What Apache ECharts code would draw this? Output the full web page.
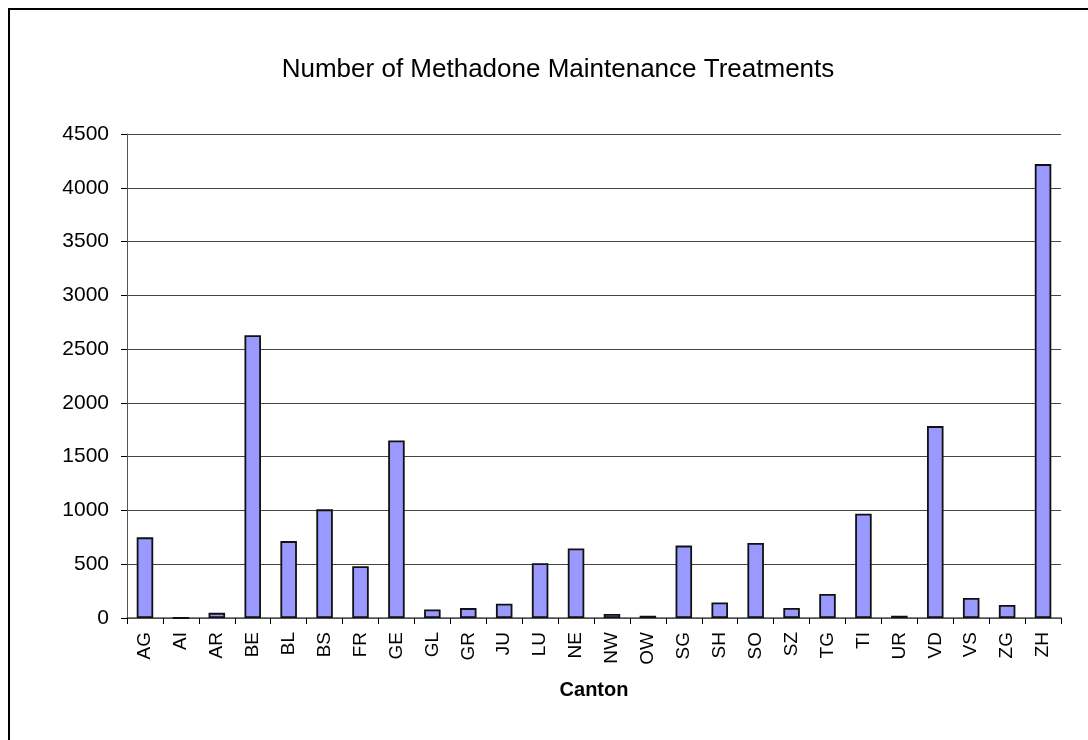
<!DOCTYPE html>
<html style="height: 100%">
    <head>
        <meta charset="utf-8">
    </head>
    <body style="height: 100%; margin: 0; background: #fff">
        <div id="container" style="width: 1088px; height: 740px"></div>

        <script type="text/javascript" src="https://cdn.jsdelivr.net/npm/echarts@6/dist/echarts.min.js"></script>
        <script type="text/javascript">
// cantons and treatment counts
var cantons = ['AG','AI','AR','BE','BL','BS','FR','GE','GL','GR','JU','LU','NE','NW','OW','SG','SH','SO','SZ','TG','TI','UR','VD','VS','ZG','ZH'];
var treatments = [750, 0, 48, 2630, 715, 1010, 482, 1650, 80, 92, 133, 510, 646, 37, 21, 673, 145, 698, 93, 223, 970, 21, 1784, 186, 121, 4220];
var yTicks = {min: 0, max: 4500, interval: 500};

var dom = document.getElementById("container");
var myChart = echarts.init(dom);

var font = 'Liberation Sans, Arial, sans-serif';

var option = {
    backgroundColor: '#fff',
    animation: false,
    title: {
        text: 'Number of Methadone Maintenance Treatments',
        left: 553,
        top: 52,
        textAlign: 'center',
        textStyle: {fontFamily: font, fontSize: 26, fontWeight: 'normal', color: '#000'}
    },
    graphic: [{
        type: 'rect',
        shape: {x: 9, y: 9, width: 1200, height: 1000},
        style: {fill: 'none', stroke: '#000', lineWidth: 2},
        silent: true
    }],
    grid: {left: 127, right: 27, top: 134, bottom: 122},
    xAxis: {
        type: 'category',
        data: cantons,
        name: 'Canton',
        nameLocation: 'middle',
        nameGap: 62,
        nameTextStyle: {fontFamily: font, fontSize: 20, fontWeight: 'bold', color: '#000'},
        axisLine: {lineStyle: {color: '#555', width: 1.5}},
        axisTick: {show: true, alignWithLabel: false, length: 6, lineStyle: {color: '#000'}},
        axisLabel: {rotate: 90, margin: 14, fontFamily: font, fontSize: 19, color: '#000', interval: 0},
        splitLine: {show: false}
    },
    yAxis: {
        type: 'value',
        min: yTicks.min,
        max: yTicks.max,
        interval: yTicks.interval,
        axisLine: {show: true, lineStyle: {color: '#555', width: 1}},
        axisTick: {show: true, length: 6, lineStyle: {color: '#000'}},
        axisLabel: {margin: 18, fontFamily: font, fontSize: 21, color: '#000', formatter: function (v) { return String(v); }},
        splitLine: {show: true, lineStyle: {color: '#444', width: 1.2}}
    },
    series: [{
        type: 'bar',
        data: treatments,
        barWidth: '46%',
        itemStyle: {color: '#9999ff', borderColor: '#111', borderWidth: 1.8}
    }]
};

myChart.setOption(option);
        </script>
    </body>
</html>
